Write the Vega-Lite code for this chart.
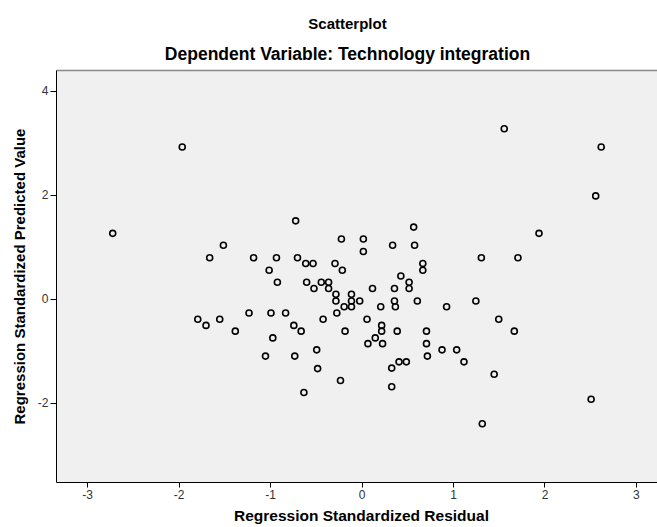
{
  "$schema": "https://vega.github.io/schema/vega-lite/v6.json",
  "autosize": {"type": "none"},
  "padding": {"left": 56, "top": 70, "right": 0, "bottom": 45},
  "width": 601,
  "height": 412,
  "background": "white",
  "config": {
    "font": "Liberation Sans",
    "view": {"stroke": null, "fill": "#f0f0f0"}
  },
  "title": {
    "text": "Scatterplot",
    "subtitle": "Dependent Variable: Technology integration",
    "fontSize": 15,
    "fontWeight": "bold",
    "color": "black",
    "subtitleFontSize": 17.5,
    "subtitleFontWeight": "bold",
    "subtitleColor": "black",
    "subtitlePadding": 14,
    "offset": 7,
    "anchor": "middle",
    "dx": -9
  },
  "data": {
    "values": [
      {"res": -2.72, "pred": 1.26}, {"res": -1.96, "pred": 2.92}, {"res": -0.72, "pred": 1.50},
      {"res": -0.22, "pred": 1.15}, {"res": 0.02, "pred": 1.15}, {"res": 0.02, "pred": 0.91},
      {"res": -1.51, "pred": 1.03}, {"res": -1.66, "pred": 0.79}, {"res": -1.18, "pred": 0.79},
      {"res": -0.93, "pred": 0.79}, {"res": -0.70, "pred": 0.79}, {"res": -1.01, "pred": 0.55},
      {"res": -0.61, "pred": 0.68}, {"res": -0.53, "pred": 0.68}, {"res": -0.29, "pred": 0.68},
      {"res": -0.21, "pred": 0.55}, {"res": -0.92, "pred": 0.32}, {"res": -0.60, "pred": 0.32},
      {"res": -0.44, "pred": 0.32}, {"res": -0.36, "pred": 0.32}, {"res": -0.52, "pred": 0.20},
      {"res": -0.36, "pred": 0.20}, {"res": -0.28, "pred": 0.09}, {"res": -0.11, "pred": 0.09},
      {"res": -0.28, "pred": -0.04}, {"res": -0.11, "pred": -0.04}, {"res": -0.02, "pred": -0.04},
      {"res": -0.19, "pred": -0.15}, {"res": -0.11, "pred": -0.15}, {"res": -0.27, "pred": -0.27},
      {"res": -1.23, "pred": -0.27}, {"res": -0.99, "pred": -0.27}, {"res": -0.83, "pred": -0.27},
      {"res": -1.79, "pred": -0.39}, {"res": -1.70, "pred": -0.51}, {"res": -1.55, "pred": -0.39},
      {"res": -1.38, "pred": -0.62}, {"res": -0.74, "pred": -0.51}, {"res": -0.66, "pred": -0.62},
      {"res": -0.42, "pred": -0.39}, {"res": -0.18, "pred": -0.62}, {"res": -0.97, "pred": -0.75},
      {"res": -1.05, "pred": -1.10}, {"res": -0.73, "pred": -1.10}, {"res": -0.49, "pred": -0.98},
      {"res": -0.48, "pred": -1.34}, {"res": -0.23, "pred": -1.57}, {"res": -0.63, "pred": -1.80},
      {"res": 1.56, "pred": 3.27}, {"res": 2.62, "pred": 2.92}, {"res": 2.56, "pred": 1.98},
      {"res": 1.94, "pred": 1.26}, {"res": 1.31, "pred": 0.79}, {"res": 1.71, "pred": 0.79},
      {"res": 0.57, "pred": 1.38}, {"res": 0.34, "pred": 1.03}, {"res": 0.58, "pred": 1.03},
      {"res": 0.67, "pred": 0.68}, {"res": 0.67, "pred": 0.55}, {"res": 0.43, "pred": 0.44},
      {"res": 0.52, "pred": 0.32}, {"res": 0.52, "pred": 0.20}, {"res": 0.12, "pred": 0.20},
      {"res": 0.36, "pred": 0.20}, {"res": 0.36, "pred": -0.04}, {"res": 0.37, "pred": -0.15},
      {"res": 0.21, "pred": -0.15}, {"res": 0.61, "pred": -0.04}, {"res": 0.93, "pred": -0.15},
      {"res": 1.25, "pred": -0.04}, {"res": 1.50, "pred": -0.39}, {"res": 1.67, "pred": -0.62},
      {"res": 0.06, "pred": -0.39}, {"res": 0.22, "pred": -0.51}, {"res": 0.22, "pred": -0.62},
      {"res": 0.39, "pred": -0.62}, {"res": 0.71, "pred": -0.62}, {"res": 0.15, "pred": -0.75},
      {"res": 0.07, "pred": -0.86}, {"res": 0.23, "pred": -0.86}, {"res": 0.71, "pred": -0.86},
      {"res": 0.72, "pred": -1.10}, {"res": 0.88, "pred": -0.98}, {"res": 1.04, "pred": -0.98},
      {"res": 1.12, "pred": -1.21}, {"res": 0.41, "pred": -1.21}, {"res": 0.49, "pred": -1.21},
      {"res": 0.33, "pred": -1.33}, {"res": 0.33, "pred": -1.69}, {"res": 1.45, "pred": -1.45},
      {"res": 2.51, "pred": -1.93}, {"res": 1.32, "pred": -2.40}
    ]
  },
  "layer": [
    {
      "mark": {"type": "point", "shape": "circle", "filled": false, "stroke": "black", "strokeWidth": 1.6, "size": 36, "opacity": 1},
      "encoding": {
        "x": {
          "field": "res", "type": "quantitative",
          "scale": {"domain": [-3.34, 3.23], "nice": false, "zero": false},
          "axis": {
            "title": "Regression Standardized Residual",
            "values": [-3, -2, -1, 0, 1, 2, 3],
            "labelExpr": "replace(datum.label, '\u2212', '-')",
            "grid": false,
            "domainColor": "black", "domainWidth": 1,
            "tickColor": "black", "tickSize": 5,
            "labelFontSize": 12, "labelColor": "#333333", "labelPadding": 2,
            "titleFontSize": 15.5, "titleFontWeight": "bold", "titleColor": "black", "titlePadding": 8,
            "titleX": 305
          }
        },
        "y": {
          "field": "pred", "type": "quantitative",
          "scale": {"domain": [-3.52, 4.4], "nice": false, "zero": false},
          "axis": {
            "title": "Regression Standardized Predicted Value",
            "values": [-2, 0, 2, 4],
            "labelExpr": "replace(datum.label, '\u2212', '-')",
            "grid": false,
            "domainColor": "black", "domainWidth": 1,
            "tickColor": "black", "tickSize": 6,
            "labelFontSize": 12, "labelColor": "#333333", "labelPadding": 2,
            "titleFontSize": 15, "titleFontWeight": "bold", "titleColor": "black", "titlePadding": 10
          }
        }
      }
    },
    {
      "mark": {"type": "point", "opacity": 0},
      "encoding": {
        "x": {
          "field": "res", "type": "quantitative",
          "axis": {"orient": "top", "title": null, "labels": false, "ticks": false, "grid": false, "domainColor": "#888888", "domainWidth": 1.5}
        },
        "y": {"field": "pred", "type": "quantitative"}
      }
    }
  ],
  "resolve": {"axis": {"x": "independent"}}
}
